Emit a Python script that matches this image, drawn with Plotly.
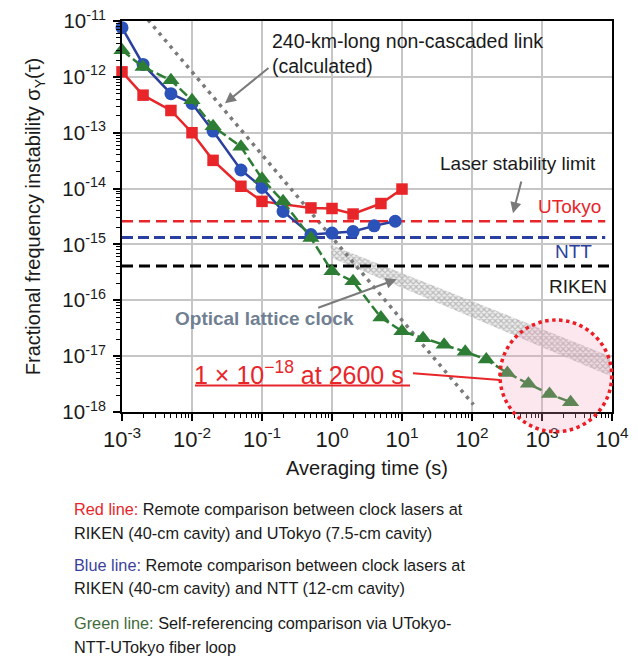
import plotly.graph_objects as go

# ---------------- data ----------------
red_tau = [1e-3, 2e-3, 5e-3, 1e-2, 2e-2, 5e-2, 0.1, 0.5, 1, 2, 5, 10]
red_sigma = [1.23e-12, 4.7e-13, 2.5e-13, 1.0e-13, 3.2e-14, 1.1e-14, 5.9e-15,
             4.5e-15, 4.4e-15, 3.5e-15, 5.4e-15, 9.8e-15]

blue_tau = [1e-3, 2e-3, 5e-3, 1e-2, 2e-2, 5e-2, 0.1, 0.2, 0.5, 1, 2, 4, 8]
blue_sigma = [7.6e-12, 1.67e-12, 5.0e-13, 3.35e-13, 1.07e-13, 2.15e-14, 1.05e-14,
              3.9e-15, 1.5e-15, 1.6e-15, 1.7e-15, 2.15e-15, 2.6e-15]

green_tau = [1e-3, 2e-3, 5e-3, 1e-2, 2e-2, 5e-2, 0.1, 0.2, 0.5, 1, 2, 5, 10,
             20, 40, 80, 160, 320, 640, 1280, 2560]
green_sigma = [3.0e-12, 1.5e-12, 8.7e-13, 3.8e-13, 1.3e-13, 5.6e-14, 1.5e-14,
               5.9e-15, 1.3e-15, 3.3e-16, 2.2e-16, 4.9e-17, 2.8e-17, 2.1e-17,
               1.6e-17, 1.2e-17, 8.7e-18, 5.0e-18, 3.2e-18, 2.1e-18, 1.5e-18]

link_tau = [2.35e-3, 105]          # 240-km non-cascaded link (calculated)
link_sigma = [1.05e-11, 1.35e-18]

limit_tau = [1e-3, 8e3]
limit_utokyo = 2.6e-15
limit_ntt = 1.33e-15
limit_riken_tau = [1e-3, 9.2e3]
limit_riken = 4.1e-16

olc_tau = [0.95, 9.4e3, 9.4e3, 1.0]           # optical lattice clock band
olc_sigma = [9.9e-16, 1.0e-17, 4.4e-18, 5.7e-16]

x_tickvals = [1e-3, 1e-2, 1e-1, 1e0, 1e1, 1e2, 1e3, 1e4]
x_ticktext = ["10<sup>-3</sup>", "10<sup>-2</sup>", "10<sup>-1</sup>", "10<sup>0</sup>",
              "10<sup>1</sup>", "10<sup>2</sup>", "10<sup>3</sup>", "10<sup>4</sup>"]
y_tickvals = [1e-18, 1e-17, 1e-16, 1e-15, 1e-14, 1e-13, 1e-12, 1e-11]
y_ticktext = ["10<sup>-18</sup>", "10<sup>-17</sup>", "10<sup>-16</sup>", "10<sup>-15</sup>",
              "10<sup>-14</sup>", "10<sup>-13</sup>", "10<sup>-12</sup>", "10<sup>-11</sup>"]

RED = "#e8262a"
BLUE_M = "#2a52b8"
BLUE_L = "#2b3f9e"
GREEN = "#2e7d34"
GRAY = "#7a7a7a"
FONT = "Liberation Sans, Arial, sans-serif"

# layout geometry (pixels); page body has an 8px margin
OFF = 8
W, H = 630, 652
L, R, T = 114, 26, 13
PH = 391
B = H - T - PH
PW = W - L - R


def px(x):
    return (x - OFF - L) / PW


def py(y):
    return (H - B - (y - OFF)) / PH


fig = go.Figure()

# optical lattice clock band
fig.add_trace(go.Scatter(
    x=olc_tau, y=olc_sigma, mode="lines", fill="toself",
    line=dict(width=0), fillcolor="rgba(0,0,0,0)",
    fillpattern=dict(shape="x", fgcolor="#8a8a8a", bgcolor="rgba(225,225,225,0.6)",
                     size=4, solidity=0.55),
    hoverinfo="skip", showlegend=False))

# dotted calculated link line
fig.add_trace(go.Scatter(
    x=link_tau, y=link_sigma, mode="lines",
    line=dict(color=GRAY, width=3.5, dash="3.5px,5px"), showlegend=False))

# laser stability limits
fig.add_trace(go.Scatter(x=limit_tau, y=[limit_utokyo] * 2, mode="lines",
                         line=dict(color=RED, width=2.5, dash="11px,6px"), showlegend=False))
fig.add_trace(go.Scatter(x=limit_tau, y=[limit_ntt] * 2, mode="lines",
                         line=dict(color=BLUE_L, width=3, dash="11px,5px"), showlegend=False))
fig.add_trace(go.Scatter(x=limit_riken_tau, y=[limit_riken] * 2, mode="lines",
                         line=dict(color="black", width=3, dash="11px,6px"), showlegend=False))

# measured series
fig.add_trace(go.Scatter(x=red_tau, y=red_sigma, mode="lines+markers", cliponaxis=False,
                         line=dict(color=RED, width=2.5),
                         marker=dict(symbol="square", size=11.5, color=RED), showlegend=False))
fig.add_trace(go.Scatter(x=blue_tau, y=blue_sigma, mode="lines+markers", cliponaxis=False,
                         line=dict(color=BLUE_L, width=2.5),
                         marker=dict(symbol="circle", size=13, color=BLUE_M), showlegend=False))
fig.add_trace(go.Scatter(x=green_tau, y=green_sigma, mode="lines+markers", cliponaxis=False,
                         line=dict(color=GREEN, width=2.5, dash="10px,4px"),
                         marker=dict(symbol="triangle-up", size=15, color=GREEN), showlegend=False))

shapes = [
    # pink circle
    dict(type="circle", xref="paper", yref="paper",
         x0=px(500), x1=px(611.7), y0=py(431.7), y1=py(320),
         line=dict(color="#ee1c25", width=3.5, dash="dot"),
         fillcolor="rgba(240,160,185,0.25)", layer="above"),
    # red connector from label to circle
    dict(type="line", xref="paper", yref="paper",
         x0=px(413), y0=py(373.3), x1=px(500), y1=py(380),
         line=dict(color=RED, width=2)),
    # underline of the red label
    dict(type="line", xref="paper", yref="paper",
         x0=px(195), y0=py(385.5), x1=px(410), y1=py(385.5),
         line=dict(color=RED, width=1.8)),
]

ann = []


def text(x, y, s, color="#1a1a1a", size=19, bold=False, family=FONT):
    if bold:
        s = "<b>" + s + "</b>"
    ann.append(dict(xref="paper", yref="paper", x=px(x), y=py(y), text=s,
                    showarrow=False, xanchor="left", yanchor="middle", align="left",
                    font=dict(color=color, size=size, family=family), borderpad=0))


def arrow(hx, hy, tx, ty):
    ann.append(dict(xref="paper", yref="paper", x=px(hx), y=py(hy), text="",
                    showarrow=True, axref="pixel", ayref="pixel",
                    ax=tx - hx, ay=ty - hy, arrowhead=2, arrowsize=1.1,
                    arrowwidth=2, arrowcolor=GRAY))


text(271, 53.5, "240-km-long non-cascaded link<br>(calculated)", size=19.5)
arrow(225, 103.3, 270, 66.7)
text(439, 163, "Laser stability limit")
arrow(513, 213.3, 521.7, 180)
text(537, 206.7, "UTokyo", color=RED)
text(554, 251.7, "NTT", color=BLUE_L)
text(548, 286.7, "RIKEN")
text(174, 318.3, "Optical lattice clock", color="#717f92", bold=True)
arrow(396.7, 279.3, 316.7, 308.3)
text(193, 373.3, "1 × 10<sup>−18</sup> at 2600 s", color=RED, size=25)

caps = [
    (509.3, "<span style='color:#e8262a'>Red line:</span> Remote comparison between clock lasers at"),
    (533.3, "RIKEN (40-cm cavity) and UTokyo (7.5-cm cavity)"),
    (565.0, "<span style='color:#3b3f9c'>Blue line:</span> Remote comparison between clock lasers at"),
    (588.3, "RIKEN (40-cm cavity) and NTT (12-cm cavity)"),
    (623.3, "<span style='color:#3f6b3c'>Green line:</span> Self-referencing comparison via UTokyo-"),
    (646.7, "NTT-UTokyo fiber loop"),
]
for yy, s in caps:
    text(73, yy, s, size=16.3)

axis_common = dict(
    type="log", showline=True, linecolor="black", linewidth=2, mirror=True,
    showgrid=True, gridcolor="#c6c6c6", gridwidth=1.5,
    ticks="outside", ticklen=7, tickwidth=1.5, tickcolor="black",
    ticklabeloverflow="allow", zeroline=False,
)
minor_x = [m * 10.0 ** e for e in range(-3, 4) for m in range(2, 10)]
minor_y = [m * 10.0 ** e for e in range(-18, -11) for m in range(2, 10)]

fig.update_xaxes(**axis_common, range=[-3, 4], tickmode="array",
                 tickvals=x_tickvals, ticktext=x_ticktext,
                 tickfont=dict(size=22, color="#1a1a1a", family=FONT),
                 minor=dict(tickmode="array", tickvals=minor_x, ticks="outside",
                            ticklen=4, tickwidth=1.2, tickcolor="black", showgrid=False),
                 title=dict(text="Averaging time (s)", standoff=10,
                            font=dict(size=20, color="#1a1a1a", family=FONT)))
fig.update_yaxes(**axis_common, range=[-18, -11], tickmode="array",
                 tickvals=y_tickvals, ticktext=y_ticktext, ticklabelstandoff=3,
                 tickfont=dict(size=20.5, color="#1a1a1a", family=FONT),
                 minor=dict(tickmode="array", tickvals=minor_y, ticks="outside",
                            ticklen=4, tickwidth=1.2, tickcolor="black", showgrid=False),
                 title=dict(text="Fractional frequency instability σ<sub>Y</sub>(τ)", standoff=16,
                            font=dict(size=20, color="#1a1a1a", family=FONT)))

fig.update_layout(
    width=W, height=H, margin=dict(l=L, r=R, t=T, b=B, autoexpand=False),
    paper_bgcolor="white", plot_bgcolor="white",
    shapes=shapes, annotations=ann, showlegend=False,
    font=dict(family=FONT, color="#1a1a1a"),
)

fig.write_html("out.html")
